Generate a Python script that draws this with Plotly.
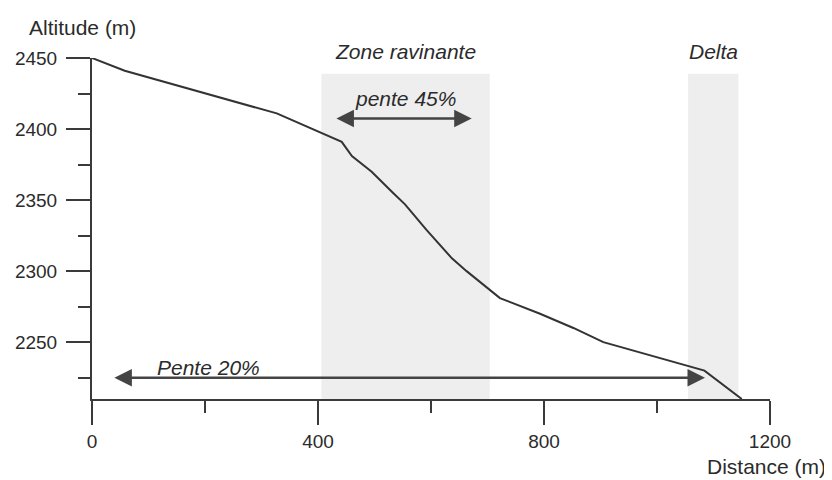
import plotly.graph_objects as go

# ---- data ----
distance_m = [0, 58, 327, 442, 460, 495, 533, 554, 592, 637, 663, 699, 722,
              793, 852, 905, 994, 1084, 1150]
altitude_m = [2450, 2441, 2411, 2391, 2381, 2370, 2355, 2347, 2329, 2309, 2300,
              2288, 2281, 2270, 2260, 2250, 2240, 2230, 2210]

zone_names = ["Zone ravinante", "Delta"]
zone_start = [406, 1055]
zone_end = [704, 1144]
zone_top = 2439

slope_labels = ["pente 45%", "Pente 20%"]
slope_from = [430, 37]
slope_to = [672, 1085]
slope_alt = [2407.5, 2225]

x_ticks = [0, 400, 800, 1200]
y_ticks = [2250, 2300, 2350, 2400, 2450]
x_range = [0, 1200]
y_range = [2210, 2450]

FONT = "Liberation Sans, Arial, sans-serif"
INK = "#2b2b2b"
AXIS = "#3a3a3a"
SHADE = "#efeeee"

W, H = 824, 472
L, T, PW, PH = 84, 50, 678, 341

fig = go.Figure()
fig.add_trace(go.Scatter(x=distance_m, y=altitude_m, mode="lines",
                         line=dict(color="#333333", width=2),
                         hoverinfo="skip", showlegend=False))

for name, x0, x1 in zip(zone_names, zone_start, zone_end):
    fig.add_shape(type="rect", xref="x", yref="y", x0=x0, x1=x1,
                  y0=y_range[0], y1=zone_top, fillcolor=SHADE,
                  line=dict(width=0), layer="below")
    fig.add_annotation(x=(x0 + x1) / 2, y=1, xref="x", yref="paper",
                       text=f"<i>{name}</i>", showarrow=False,
                       yanchor="middle", yshift=7,
                       font=dict(family=FONT, size=21, color=INK))

for i, lab in enumerate(slope_labels):
    fig.add_annotation(x=slope_to[i], y=slope_alt[i], ax=slope_from[i], ay=slope_alt[i],
                       xref="x", yref="y", axref="x", ayref="y", text="",
                       showarrow=True, arrowhead=2, startarrowhead=2,
                       arrowside="end+start", arrowsize=1.4, startarrowsize=1.4,
                       arrowwidth=2.5, arrowcolor="#444444")

fig.add_annotation(x=555, y=slope_alt[0], xref="x", yref="y",
                   text=f"<i>{slope_labels[0]}</i>", showarrow=False,
                   yanchor="middle", yshift=20,
                   font=dict(family=FONT, size=21, color=INK))
fig.add_annotation(x=111, y=slope_alt[1], xref="x", yref="y",
                   text=f"<i>{slope_labels[1]}</i>", showarrow=False,
                   xanchor="left", yanchor="middle", yshift=10,
                   font=dict(family=FONT, size=21, color=INK))

# axis titles
fig.add_annotation(x=(27 - 8 - L) / PW, y=1 + (T + 8 - 27) / PH,
                   xref="paper", yref="paper", text="Altitude (m)",
                   xanchor="left", yanchor="middle", showarrow=False,
                   font=dict(family=FONT, size=21, color=INK))
fig.add_annotation(x=1 + (828 - 8 - L - PW) / PW, y=-(466 - 8 - T - PH) / PH,
                   xref="paper", yref="paper", text="Distance (m)",
                   xanchor="right", yanchor="middle", showarrow=False,
                   font=dict(family=FONT, size=21, color=INK))

fig.update_xaxes(range=x_range, tickvals=x_ticks, ticks="outside", ticklen=24,
                 tickwidth=2, tickcolor=AXIS, showline=True, linecolor=AXIS,
                 linewidth=2, showgrid=False, zeroline=False, automargin=False,
                 minor=dict(dtick=200, tick0=0, ticks="outside", ticklen=12,
                            tickwidth=2, tickcolor=AXIS, showgrid=False),
                 tickfont=dict(family=FONT, size=19, color=INK))
fig.update_yaxes(range=y_range, tickvals=y_ticks, ticks="outside", ticklen=24,
                 tickwidth=2, tickcolor=AXIS, showline=True, linecolor=AXIS,
                 linewidth=2, showgrid=False, zeroline=False, automargin=False,
                 ticklabelstandoff=5,
                 minor=dict(dtick=25, tick0=0, ticks="outside", ticklen=12,
                            tickwidth=2, tickcolor=AXIS, showgrid=False),
                 tickfont=dict(family=FONT, size=19, color=INK))

fig.update_layout(width=W, height=H,
                  margin=dict(l=L, r=W - L - PW, t=T, b=H - T - PH,
                              autoexpand=False),
                  plot_bgcolor="white", paper_bgcolor="white",
                  font=dict(family=FONT, color=INK))

fig.write_html("out.html")
